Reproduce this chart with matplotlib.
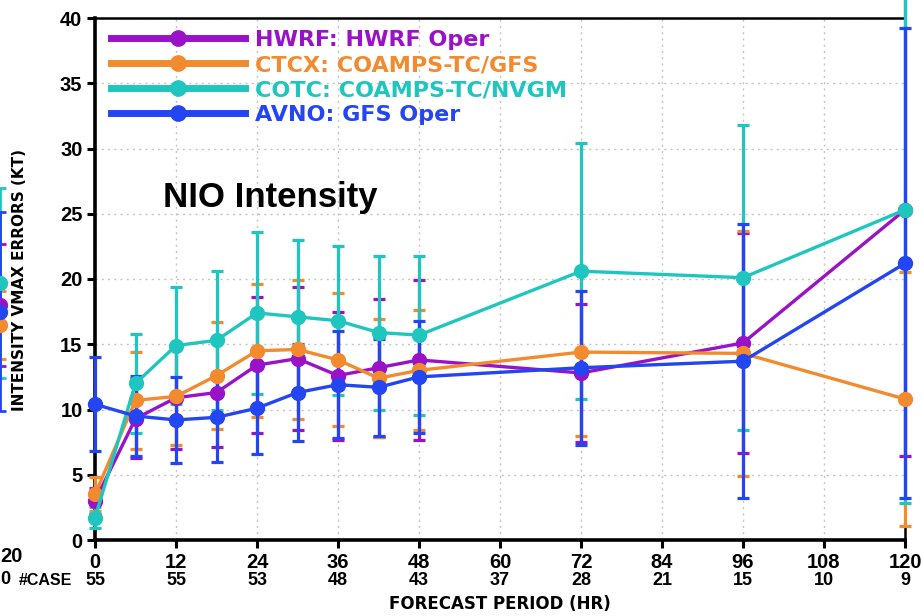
import matplotlib.pyplot as plt

hours = [0, 6, 12, 18, 24, 30, 36, 42, 48, 72, 96, 120]
tick_hours = [0, 12, 24, 36, 48, 60, 72, 84, 96, 108, 120]
cases = [55, 55, 53, 48, 43, 37, 28, 21, 15, 10, 9]

hwrf = [3.0, 9.3, 10.9, 11.3, 13.4, 13.9, 12.6, 13.2, 13.8, 12.8, 15.1, 25.3]
hwrf_err = [1.0, 3.0, 3.9, 4.2, 5.2, 5.5, 4.9, 5.3, 6.1, 5.3, 8.4, 18.9]
ctcx = [3.5, 10.7, 11.0, 12.6, 14.5, 14.6, 13.8, 12.4, 13.0, 14.4, 14.3, 10.8]
ctcx_err = [1.3, 3.7, 3.7, 4.1, 5.1, 5.3, 5.1, 4.5, 4.6, 6.4, 9.4, 9.7]
cotc = [1.7, 12.0, 14.9, 15.3, 17.4, 17.1, 16.8, 15.9, 15.7, 20.6, 20.1, 25.3]
cotc_err = [0.8, 3.8, 4.5, 5.3, 6.2, 5.9, 5.7, 5.9, 6.1, 9.8, 11.7, 22.5]
avno = [10.4, 9.5, 9.2, 9.4, 10.1, 11.3, 11.9, 11.7, 12.5, 13.2, 13.7, 21.2]
avno_err = [3.6, 3.1, 3.3, 3.4, 3.5, 3.7, 4.1, 3.7, 4.3, 5.9, 10.5, 18.0]

labels = ["HWRF: HWRF Oper", "CTCX: COAMPS-TC/GFS", "COTC: COAMPS-TC/NVGM", "AVNO: GFS Oper"]
colors = ["#9a12c8", "#f28a2e", "#1fc6bf", "#2345f2"]

# edge of the neighbouring panel (only its 120 h column shows)
left_vals = [18.0, 16.5, 19.7, 17.5]
left_err = [4.7, 2.6, 7.3, 7.6]

W, H = 923, 616
fig = plt.figure(figsize=(W / 100, H / 100), dpi=100)

x0, x1, y0, y1 = 95, 905, 540, 18
ax = fig.add_axes([x0 / W, 1 - y0 / H, (x1 - x0) / W, (y0 - y1) / H])

series = [(hwrf, hwrf_err), (ctcx, ctcx_err), (cotc, cotc_err), (avno, avno_err)]
handles = []
for (vals, errs), c, lab in zip(series, colors, labels):
    ax.errorbar(hours, vals, yerr=errs, fmt="none", ecolor=c, elinewidth=2.3,
                capsize=4.5, capthick=2.3, clip_on=False, zorder=3)
    ln, = ax.plot(hours, vals, "-o", color=c, lw=2.4, ms=10, label=lab,
                  clip_on=False, zorder=4)
    handles.append(ln)

ax.set_xlim(0, 120)
ax.set_ylim(0, 40)
ax.set_xticks(tick_hours)
ax.set_yticks(range(0, 41, 5))
ax.grid(True, color="#c4c4c4", linestyle=(0, (1.5, 3)), lw=1)
ax.set_axisbelow(True)
for s in ["left", "bottom"]:
    ax.spines[s].set_linewidth(2.6)
for s in ["top", "right"]:
    ax.spines[s].set_linewidth(1.8)
ax.tick_params(axis="both", direction="out", length=6, width=2.2, labelsize=14.5, pad=3)
for t in ax.get_xticklabels() + ax.get_yticklabels():
    t.set_fontweight("bold")
    t.set_family("Liberation Sans")

tr = ax.get_xaxis_transform()
for h, n in zip(tick_hours, cases):
    ax.text(h, -0.077, str(n), transform=tr, ha="center", va="center",
            fontsize=13, fontweight="bold", family="Liberation Sans")
ax.text(-3.4, -0.077, "#CASE", transform=tr, ha="right", va="center",
        fontsize=11.5, fontweight="bold", family="Liberation Sans")
ax.set_xlabel("FORECAST PERIOD (HR)", fontsize=12, fontweight="bold", labelpad=17)
fig.text(20 / W, 1 - 280 / H, "INTENSITY VMAX ERRORS (KT)", rotation=90,
         ha="center", va="center", fontsize=11, fontweight="bold")

ax.text(10.1, 25.5, "NIO Intensity", fontsize=25, fontweight="bold",
        family="Liberation Sans", va="baseline")

leg = ax.legend(handles=handles, loc="upper left", bbox_to_anchor=(0.005, 1.0),
                frameon=False, handlelength=6.0, handletextpad=0.45,
                labelspacing=0.22, borderaxespad=0.15,
                prop={"weight": "bold", "size": 16})
for t, c in zip(leg.get_texts(), colors):
    t.set_color(c)
for ln in leg.get_lines():
    ln.set_linewidth(5)
    ln.set_markersize(11)

# neighbouring panel cut off at the left edge
axl = fig.add_axes([-(x1 - x0) / W, 1 - y0 / H, (x1 - x0) / W, (y0 - y1) / H])
for v, e, c in zip(left_vals, left_err, colors):
    axl.errorbar([120], [v], yerr=[e], fmt="o", color=c, ms=10, elinewidth=2,
                 capsize=4.5, capthick=2, clip_on=False)
axl.set_xlim(0, 120)
axl.set_ylim(0, 40)
axl.axis("off")
# visible remains of its "120" tick label and "10" case count
fig.text(0, 1 - 557 / H, "20", ha="left", va="center", fontsize=14.5,
         fontweight="bold", family="Liberation Sans")
fig.text(0, 1 - 580 / H, "0", ha="left", va="center", fontsize=13,
         fontweight="bold", family="Liberation Sans")

fig.savefig("out.png", dpi=100)
